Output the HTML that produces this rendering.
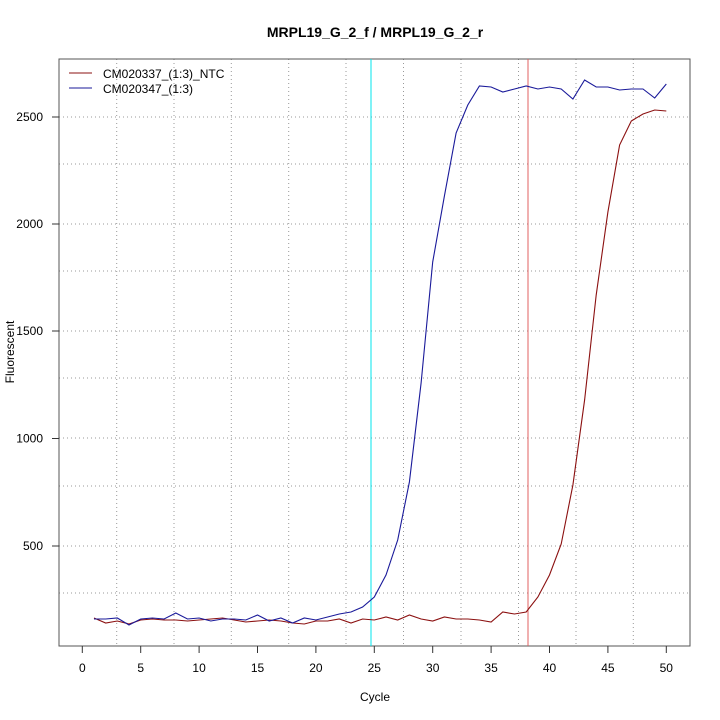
<!DOCTYPE html>
<html><head><style>body{margin:0;background:#fff}svg{display:block}text{font-family:"Liberation Sans",sans-serif}</style></head>
<body>
<svg width="720" height="720" viewBox="0 0 720 720" xmlns="http://www.w3.org/2000/svg">
<rect width="720" height="720" fill="#fff"/>
<text x="375" y="37" font-size="14" font-weight="bold" text-anchor="middle">MRPL19_G_2_f / MRPL19_G_2_r</text>
<g stroke="#999" stroke-dasharray="1,3" stroke-width="1">
<line x1="116.7" y1="59" x2="116.7" y2="646"/><line x1="174" y1="59" x2="174" y2="646"/><line x1="231.3" y1="59" x2="231.3" y2="646"/><line x1="288.7" y1="59" x2="288.7" y2="646"/><line x1="346" y1="59" x2="346" y2="646"/><line x1="403.5" y1="59" x2="403.5" y2="646"/><line x1="461" y1="59" x2="461" y2="646"/><line x1="518.5" y1="59" x2="518.5" y2="646"/><line x1="576" y1="59" x2="576" y2="646"/><line x1="633.3" y1="59" x2="633.3" y2="646"/>
<line x1="59" y1="117" x2="690" y2="117"/><line x1="59" y1="164" x2="690" y2="164"/><line x1="59" y1="224" x2="690" y2="224"/><line x1="59" y1="271" x2="690" y2="271"/><line x1="59" y1="331" x2="690" y2="331"/><line x1="59" y1="378" x2="690" y2="378"/><line x1="59" y1="438" x2="690" y2="438"/><line x1="59" y1="486" x2="690" y2="486"/><line x1="59" y1="546" x2="690" y2="546"/><line x1="59" y1="593" x2="690" y2="593"/>
</g>
<rect x="59" y="59" width="631" height="587" fill="none" stroke="#555" stroke-width="1"/>
<g stroke="#333" stroke-width="1">
<line x1="82.3" y1="646" x2="82.3" y2="653"/><line x1="140.7" y1="646" x2="140.7" y2="653"/><line x1="199.1" y1="646" x2="199.1" y2="653"/><line x1="257.5" y1="646" x2="257.5" y2="653"/><line x1="315.9" y1="646" x2="315.9" y2="653"/><line x1="374.3" y1="646" x2="374.3" y2="653"/><line x1="432.7" y1="646" x2="432.7" y2="653"/><line x1="491.1" y1="646" x2="491.1" y2="653"/><line x1="549.5" y1="646" x2="549.5" y2="653"/><line x1="607.9" y1="646" x2="607.9" y2="653"/><line x1="666.3" y1="646" x2="666.3" y2="653"/>
<line x1="52" y1="117" x2="59" y2="117"/><line x1="52" y1="224" x2="59" y2="224"/><line x1="52" y1="331" x2="59" y2="331"/><line x1="52" y1="438.5" x2="59" y2="438.5"/><line x1="52" y1="546" x2="59" y2="546"/>
</g>
<g font-size="12" text-anchor="middle">
<text x="82.3" y="672">0</text><text x="140.7" y="672">5</text><text x="199.1" y="672">10</text><text x="257.5" y="672">15</text><text x="315.9" y="672">20</text><text x="374.3" y="672">25</text><text x="432.7" y="672">30</text><text x="491.1" y="672">35</text><text x="549.5" y="672">40</text><text x="607.9" y="672">45</text><text x="666.3" y="672">50</text>
<text x="375" y="701">Cycle</text>
</g>
<g font-size="12" text-anchor="end">
<text x="43" y="121">2500</text><text x="43" y="228">2000</text><text x="43" y="335">1500</text><text x="43" y="442.5">1000</text><text x="43" y="550">500</text>
</g>
<text x="14" y="352" font-size="12" text-anchor="middle" transform="rotate(-90 14 352)">Fluorescent</text>
<line x1="371" y1="59" x2="371" y2="646" stroke="#00e5ee" stroke-width="1"/>
<line x1="528" y1="59" x2="528" y2="646" stroke="#e06060" stroke-width="1"/>
<polyline fill="none" stroke="#8b1010" stroke-width="1.1" points="94,618 105.7,623 117.3,621 129,624 140.7,620 152.4,619 164.1,620 175.8,620 187.5,621 199.1,620 210.8,619 222.5,618 234.2,620 245.8,622 257.5,621 269.2,620 280.9,621 292.6,623 304.3,624 315.9,621 327.6,621 339.3,619 351,623 362.6,619 374.3,620 386,617 397.7,620 409.4,615 421.1,619 432.7,621 444.4,617 456.1,619 467.8,619 479.4,620 491.1,622 502.8,612 514.5,614 526.2,612 537.9,597 549.5,575 561.2,544 572.9,485 584.6,400 596.2,295 607.9,212 619.6,145 631.3,121 643,114 654.7,110 666.3,111"/>
<polyline fill="none" stroke="#1a1a9a" stroke-width="1.1" points="94,619 105.7,619 117.3,618 129,625 140.7,619 152.4,618 164.1,619 175.8,613 187.5,619 199.1,618 210.8,621 222.5,619 234.2,619 245.8,620 257.5,615 269.2,621 280.9,618 292.6,623 304.3,618 315.9,620 327.6,617 339.3,614 351,612 362.6,607 374.3,597 386,575 397.7,540 409.4,482 421.1,383 432.7,262 444.4,196 456.1,133 467.8,105 479.4,86 491.1,87 502.8,92 514.5,89 526.2,86 537.9,89 549.5,87 561.2,89 572.9,99 584.6,80 596.2,87 607.9,87 619.6,90 631.3,89 643,89 654.7,98 666.3,84"/>
<line x1="69" y1="73" x2="92" y2="73" stroke="#8b1010" stroke-width="1"/>
<line x1="69" y1="88" x2="92" y2="88" stroke="#1a1a9a" stroke-width="1"/>
<text x="103" y="78" font-size="12">CM020337_(1:3)_NTC</text>
<text x="103" y="93" font-size="12">CM020347_(1:3)</text>
</svg>
</body></html>
